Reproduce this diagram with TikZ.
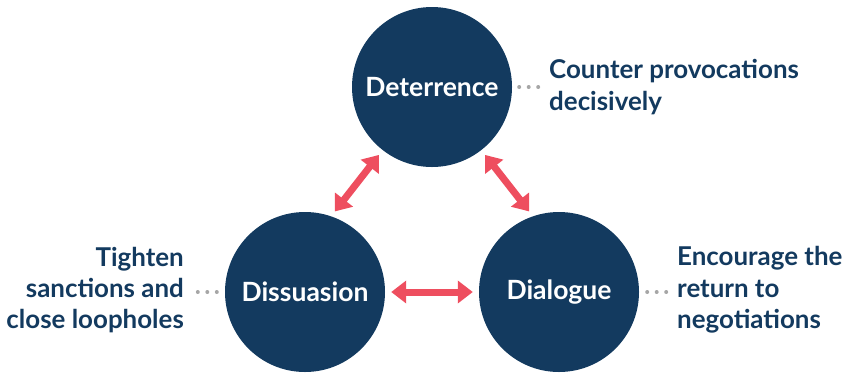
\documentclass[tikz,border=0pt]{standalone}
\usepackage{fontspec}
\setmainfont{Lato}
\usetikzlibrary{arrows.meta}
\definecolor{navy}{HTML}{133A5F}
\definecolor{arrred}{HTML}{EE4E5F}
\definecolor{dotgray}{HTML}{A6A6A6}
\tikzset{
  bigcirc/.style={circle, fill=navy, minimum size=160bp, inner sep=0pt, text=white,
    font=\bfseries\fontsize{26.6}{30}\selectfont},
  sidetext/.style={inner sep=0pt, text=navy, font=\bfseries\fontsize{26}{31.5}\selectfont},
  link/.style={draw=arrred, line width=7bp, {Triangle[length=15bp,width=22bp]}-{Triangle[length=15bp,width=22bp]}},
  dotln/.style={draw=dotgray, line width=4bp, line cap=round, dash pattern=on 0pt off 9.5bp}
}
\begin{document}
\begin{tikzpicture}[x=1bp,y=-1bp]
\useasboundingbox (0,0) rectangle (846,372);
\node[bigcirc] (det) at (432,87) {Deterrence};
\node[bigcirc] (dis) at (305,292) {Dissuasion};
\node[bigcirc] (dia) at (559,292) {Dialogue};
\draw[link, shorten <=6bp, shorten >=6bp] (dis.71) -- (det.232);
\draw[link, shorten <=6bp, shorten >=6bp] (dia.109) -- (det.308);
\draw[link, shorten <=6bp, shorten >=6bp] (dis.east) -- (dia.west);
\node[sidetext, anchor=west, align=left] (tdet) at (549,87) {Counter provocations\\decisively};
\node[sidetext, anchor=east, align=right] (tdis) at (184,290) {Tighten\\sanctions and\\close loopholes};
\node[sidetext, anchor=west, align=left] (tdia) at (677,290) {Encourage the\\return to\\negotiations};
\draw[dotln, shorten <=7bp, shorten >=9.5bp] (det.east) -- (tdet.west |- det.east);
\draw[dotln, shorten <=8bp, shorten >=13.5bp] (dis.west) -- (tdis.east |- dis.west);
\draw[dotln, shorten <=8bp, shorten >=9.5bp] (dia.east) -- (tdia.west |- dia.east);
\end{tikzpicture}
\end{document}
